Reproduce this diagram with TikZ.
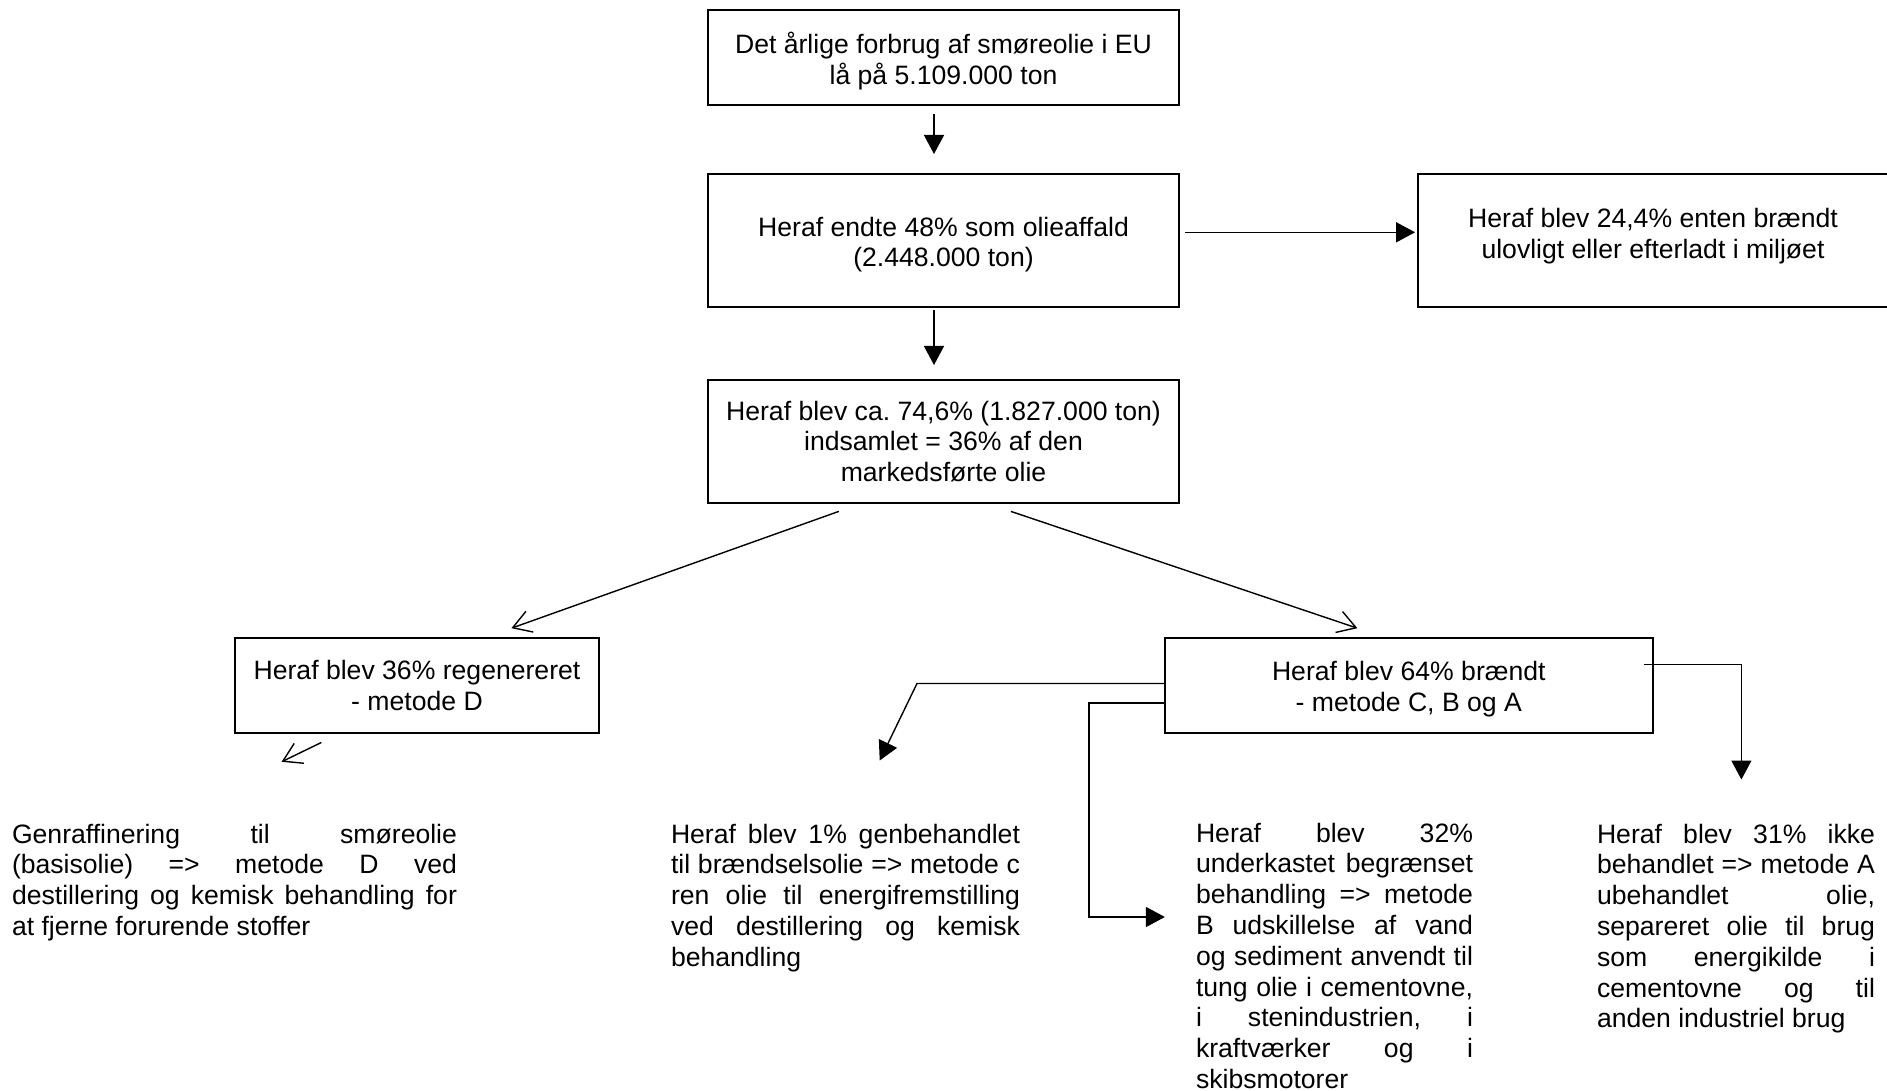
\documentclass[tikz,border=0pt]{standalone}
\usepackage{fontspec}
\setmainfont{Liberation Sans}
\usetikzlibrary{arrows.meta,calc}
\newlength\jw
\newcommand\JL[1]{\hbox to \jw{#1}}
\newcommand\LL[1]{\hbox{#1}}
\newcommand\up[1]{\rule{0pt}{#1}}
\hbadness=10000
\hfuzz=6pt
\frenchspacing
\begin{document}
\begin{tikzpicture}[x=0.5pt,y=-0.5pt,
  font=\fontsize{13.3}{15.4}\selectfont,
  box/.style={draw, line width=1pt, inner sep=0pt, outer sep=0pt, align=center},
  farr/.style={line width=0.7pt, -{Triangle[length=9.5pt,width=10pt]}},
  oarr/.style={line width=0.7pt, -{Straight Barb[length=9pt,width=11pt]}},
  para/.style={anchor=base west, inner sep=0pt, outer sep=0pt}]
\fill[white, use as bounding box] (0,0) rectangle (1887,1091);

% boxes
\node[box, minimum width=235.9pt, minimum height=47.5pt] (b1) at (943.5,57.2)
  {\up{14.2pt}Det årlige forbrug af smøreolie i EU\\lå på 5.109.000 ton};
\node[box, minimum width=235.9pt, minimum height=66.2pt] (b2) at (943.5,240.7)
  {\up{13.6pt}Heraf endte 48\% som olieaffald\\(2.448.000 ton)};
\node[box, minimum width=236.2pt, minimum height=66.2pt] (b2r) at (1653.8,240.7) {};
\node[align=center, inner sep=0pt] (b2rt) at (1653,236.5)
  {Heraf blev 24,4\% enten brændt\\ulovligt eller efterladt i miljøet};
\node[box, minimum width=235.9pt, minimum height=61.5pt] (b3) at (943.5,441.5)
  {Heraf blev ca. 74,6\% (1.827.000 ton)\\indsamlet = 36\% af den\\markedsførte olie};
\node[box, minimum width=182.3pt, minimum height=47.55pt] (bD) at (417,685.4)
  {Heraf blev 36\% regenereret\\- metode D};
\node[box, minimum width=243.9pt, minimum height=47.55pt] (bB) at (1408.8,685.4)
  {\up{13.2pt}Heraf blev 64\% brændt\\- metode C, B og A};

% paragraphs
\node[para] (tD) at (12,843) {\setlength\jw{222.5pt}\vtop{%
  \JL{Genraffinering til smøreolie}
  \JL{(basisolie) => metode D ved}
  \JL{destillering og kemisk behandling for}
  \LL{at fjerne forurende stoffer}}};
\node[para] (tC) at (671,843) {\setlength\jw{174.5pt}\vtop{%
  \JL{Heraf blev 1\% genbehandlet}
  \JL{til brændselsolie => metode c}
  \JL{ren olie til energifremstilling}
  \JL{ved destillering og kemisk}
  \LL{behandling}}};
\node[para] (tB) at (1196,842) {\setlength\jw{138.5pt}\vtop{%
  \JL{Heraf blev 32\%}
  \JL{underkastet begrænset}
  \JL{behandling => metode}
  \JL{B udskillelse af vand}
  \JL{og sediment anvendt til}
  \JL{tung olie i cementovne,}
  \JL{i stenindustrien, i}
  \JL{kraftværker og i}
  \LL{skibsmotorer}}};
\node[para] (tA) at (1597,843) {\setlength\jw{139pt}\vtop{%
  \JL{Heraf blev 31\% ikke}
  \JL{behandlet => metode A}
  \JL{ubehandlet olie,}
  \JL{separeret olie til brug}
  \JL{som energikilde i}
  \JL{cementovne og til}
  \LL{anden industriel brug}}};

% connectors
\draw[farr] ($(b1.south)+(-9.5,9.5)$) -- ($(b2.north)+(-9.5,-20.5)$);
\draw[farr] ($(b2.east)+(6,-8.4)$) -- ($(b2r.west)+(-2.5,-8.4)$);
\draw[farr] ($(b2.south)+(-9.5,3)$) -- ($(b3.north)+(-9.5,-15)$);
\draw[oarr] ($(b3.south)+(-104.7,8.4)$) -- ($(bD.north)+(94.4,-9.65)$);
\draw[oarr] ($(b3.south)+(67.4,8.4)$) -- ($(bB.north)+(-51.4,-9.65)$);
\draw[oarr] ($(bD.south)+(-95.7,9.55)$) -- ($(bD.south)+(-135.4,28.85)$);
\draw[farr] ($(bB.west)+(0,-1.9)$) -- ++(-247.9,0) -- ++(-37.3,77);
\draw[farr] ($(bB.west)+(0,17.4)$) -- ++(-75.9,0) -- ++(0,214.2) -- ++(75.9,0);
\draw[farr] ($(bB.east)+(-8.8,-20.9)$) -- ++(97.5,0) -- ++(0,115);
\end{tikzpicture}
\end{document}
